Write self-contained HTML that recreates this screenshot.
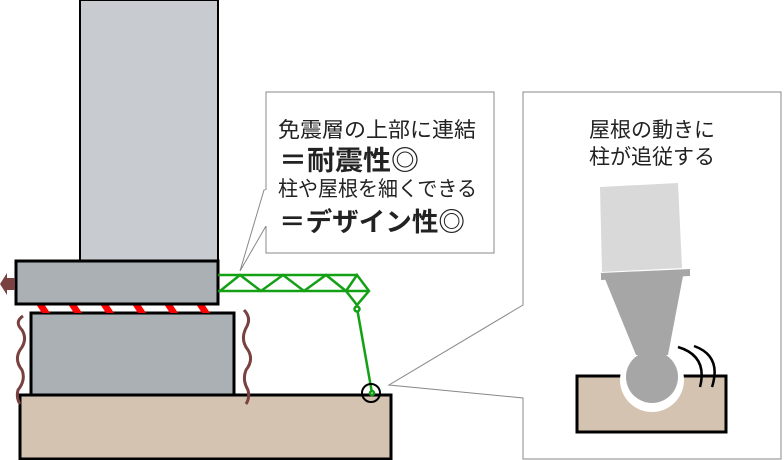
<!DOCTYPE html>
<html><head><meta charset="utf-8"><style>
html,body{margin:0;padding:0;background:#fff;width:784px;height:460px;overflow:hidden}
svg text{font-family:"Liberation Sans","Noto Sans CJK JP",sans-serif;fill:#222}
</style></head><body>
<svg width="784" height="460" viewBox="0 0 784 460" xmlns="http://www.w3.org/2000/svg">
<!-- callout 1 -->
<polygon points="266,92 494,92 494,253 266,253 266,226 240,271 264,190 266,190" fill="#fff" stroke="#888" stroke-width="1"/>
<line x1="266" y1="190" x2="266" y2="226" stroke="#fff" stroke-width="2"/>
<text x="278" y="137" font-size="21" textLength="198" lengthAdjust="spacingAndGlyphs">免震層の上部に連結</text>
<text x="279" y="170" font-size="27" font-weight="bold" textLength="140" lengthAdjust="spacingAndGlyphs">＝耐震性◎</text>
<text x="278" y="196" font-size="21" textLength="199" lengthAdjust="spacingAndGlyphs">柱や屋根を細くできる</text>
<text x="279" y="231" font-size="26" font-weight="bold" textLength="186" lengthAdjust="spacingAndGlyphs">＝デザイン性◎</text>
<!-- callout 2 -->
<polygon points="523,92 781,92 781,459 523,459 523,398 389,385 523,305" fill="#fff" stroke="#888" stroke-width="1"/>
<text x="652" y="137" font-size="21" text-anchor="middle">屋根の動きに</text>
<text x="652" y="164" font-size="21" text-anchor="middle">柱が追従する</text>
<!-- inset -->
<rect x="577" y="376" width="149" height="56" fill="#d3c3b0" stroke="#000" stroke-width="3"/>
<circle cx="652" cy="380" r="32" fill="#fff"/>
<polygon points="600,187 678,183 682,268 602,272" fill="#d9d9d9"/>
<polygon points="601,273 690,269 690,276 601,280" fill="#a6a6a6"/>
<polygon points="605,279 683,276 668,355 636,355" fill="#a6a6a6"/>
<circle cx="652" cy="377" r="26" fill="#a6a6a6"/>
<path d="M678,347 Q708,356 700,387 M694,346 Q722,356 712,387" fill="none" stroke="#000" stroke-width="2.5"/>
<!-- main -->
<rect x="80" y="0" width="138" height="262" fill="#c8ccd0" stroke="#000" stroke-width="2"/>
<rect x="20" y="395" width="371" height="64" fill="#d3c3b0" stroke="#000" stroke-width="3"/>
<rect x="31" y="313" width="203" height="82" fill="#aab0b3" stroke="#000" stroke-width="3"/>
<g fill="#f00">
<polygon points="36,304 44,304 50,313 42,313"/><polygon points="68,304 76,304 82,313 74,313"/><polygon points="100,304 108,304 114,313 106,313"/><polygon points="132,304 140,304 146,313 138,313"/><polygon points="164,304 172,304 178,313 170,313"/><polygon points="196,304 204,304 210,313 202,313"/>
</g>
<rect x="16" y="261" width="202" height="43" fill="#aab0b3" stroke="#000" stroke-width="3"/>
<polygon points="0,284 7,273 7,278 15,278 15,290 7,290 7,295" fill="#7a4141"/>
<path d="M23,316 Q14,322 22,330 Q28,340 20,350 Q14,360 22,370 Q26,380 18,390 Q16,398 20,404" fill="none" stroke="#7a4141" stroke-width="3"/>
<path d="M244,310 Q252,318 246,328 Q240,340 248,350 Q254,360 246,370 Q242,380 248,390 Q250,398 246,404" fill="none" stroke="#7a4141" stroke-width="3"/>
<!-- truss -->
<g stroke="#14a014" stroke-width="2.5" fill="none">
<line x1="218" y1="275" x2="357" y2="275"/><line x1="218" y1="291" x2="369" y2="291"/>
<polyline points="220,291 240,275 261,291 283,275 304,291 326,275 346,291 357,275 369,291 357,305 346,291"/>
<line x1="357" y1="308" x2="372" y2="393"/>
<circle cx="357" cy="309" r="2.5" fill="#fff"/>
<circle cx="372" cy="393" r="2" fill="#fff"/>
</g>
<circle cx="371" cy="393" r="9" fill="none" stroke="#000" stroke-width="2"/>
</svg>
</body></html>
